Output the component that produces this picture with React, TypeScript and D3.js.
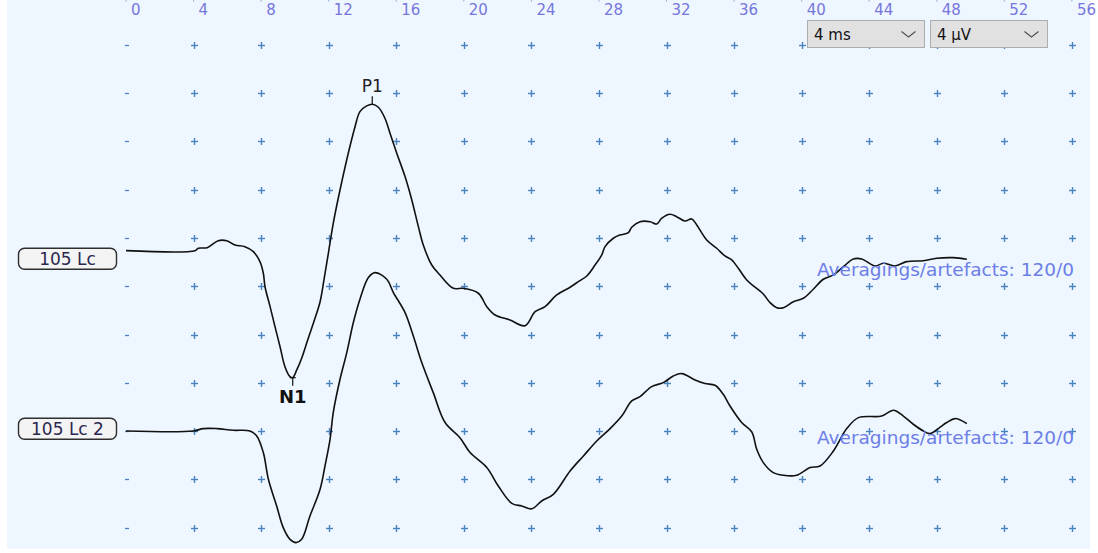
import React from 'react';
import * as d3 from 'd3';

// ---- data ----
const tickLabels = [0, 4, 8, 12, 16, 20, 24, 28, 32, 36, 40, 44, 48, 52, 56];
const gridRowsUv = [0, -4, -8, -12, -16, -20, -24, -28, -32, -36, -40];

const traceNames = ['105 Lc', '105 Lc 2'];
const averagingTexts = ['Averagings/artefacts: 120/0', 'Averagings/artefacts: 120/0'];
const dropdownTexts = ['4 ms', '4 µV'];

const trace1Ms = [0, 4.09, 4.28, 4.81, 5.46, 5.96, 6.45, 7.04, 7.54, 7.93, 8.13, 8.23, 8.53, 8.82, 9.12, 9.41, 9.71, 9.87, 10.11, 10.4, 10.79, 11.19, 11.49, 11.72, 11.98, 12.27, 12.67, 13.16, 13.56, 13.85, 14.25, 14.58, 14.94, 15.33, 15.63, 16.03, 16.52, 16.92, 17.31, 17.6, 18.1, 18.59, 19.38, 19.97, 20.86, 21.36, 21.85, 22.74, 23.62, 24.22, 24.81, 25.5, 26.29, 26.78, 27.28, 27.77, 28.16, 28.36, 28.85, 29.25, 29.74, 29.94, 30.43, 31.03, 31.42, 31.72, 32.21, 32.6, 33.1, 33.49, 33.79, 34.38, 34.97, 35.46, 35.86, 36.25, 36.75, 37.24, 37.73, 38.13, 38.53, 38.92, 39.51, 40.1, 40.69, 41.28, 41.88, 42.47, 43.06, 43.56, 44.35, 44.84, 45.53, 46.22, 47.21, 48.0, 48.98, 49.78];
const trace1Uv = [0, 0, 0.2, 0.25, 0.83, 0.83, 0.47, 0.33, -0.08, -0.91, -1.87, -2.99, -4.64, -6.3, -7.96, -9.62, -10.45, -10.53, -9.89, -8.92, -7.26, -5.61, -4.23, -2.43, -0.22, 2.27, 5.03, 8.08, 10.28, 11.53, 12.0, 12.14, 11.89, 10.98, 9.73, 8.08, 6.14, 4.2, 1.99, 0.47, -1.19, -2.02, -3.12, -3.12, -3.53, -4.64, -5.33, -5.75, -6.22, -5.06, -4.64, -3.67, -3.03, -2.57, -2.1, -1.19, -0.36, 0.33, 1.03, 1.3, 1.49, 1.94, 2.4, 2.4, 2.21, 2.69, 3.02, 2.82, 2.46, 2.63, 2.13, 0.89, 0.2, -0.44, -0.77, -1.46, -2.43, -3.03, -3.59, -4.31, -4.73, -4.73, -4.23, -3.95, -3.2, -2.37, -2.01, -1.33, -0.69, -0.69, -1.27, -1.04, -1.27, -0.91, -0.83, -0.63, -0.58, -0.71];

const trace2Ms = [0, 3.98, 4.58, 5.37, 6.35, 7.34, 7.74, 8.13, 8.43, 8.92, 9.31, 9.71, 10.07, 10.4, 10.89, 11.49, 11.78, 12.08, 12.27, 12.67, 13.07, 13.46, 13.85, 14.35, 14.74, 15.44, 15.83, 16.52, 17.01, 17.51, 18.19, 18.89, 19.77, 20.37, 21.36, 22.04, 22.84, 23.43, 24.02, 24.61, 25.3, 26.29, 27.08, 27.87, 28.66, 29.35, 29.94, 30.43, 31.12, 31.81, 32.4, 32.9, 33.69, 34.28, 34.87, 35.36, 35.76, 36.45, 37.05, 37.34, 37.73, 38.32, 38.92, 39.71, 40.5, 41.09, 41.88, 42.67, 43.36, 44.74, 45.43, 46.02, 46.61, 47.21, 47.6, 48.09, 48.59, 49.08, 49.78];
const trace2Uv = [0, 0, 0.2, 0.2, 0.06, 0, -0.41, -1.79, -4.0, -6.22, -8.01, -8.98, -9.25, -8.98, -7.05, -4.83, -2.9, -0.69, 1.53, 4.29, 6.5, 8.99, 10.92, 12.72, 13.13, 12.58, 11.48, 9.82, 7.88, 5.67, 3.18, 0.7, -0.55, -1.79, -3.03, -4.56, -6.0, -6.22, -6.45, -5.8, -5.25, -3.32, -2.07, -0.83, 0.2, 1.24, 2.49, 2.85, 3.68, 4.01, 4.56, 4.76, 4.23, 3.93, 3.79, 3.04, 2.07, 0.7, -0.08, -1.52, -2.62, -3.45, -3.67, -3.67, -3.03, -2.9, -1.66, 0.2, 1.11, 1.24, 1.72, 1.24, 0.56, 0, -0.22, 0.2, 0.7, 1.03, 0.61];

const peakLabels = ['P1', 'N1'];
const peakMs = [14.58, 9.87];
const peakUv = [12.14, -10.53];

// ---- layout ----
const W = 1098;
const H = 553;
const GRID = '#4a84c0';
const TICK_TEXT = '#7676dc';
const AVG_TEXT = '#6c7ee6';
const FONT = '"DejaVu Sans", Verdana, sans-serif';

export default function App() {
  const x = d3.scaleLinear().domain([0, 56]).range([126, 1071.9]);
  const y = d3.scaleLinear().domain([0, -40]).range([45, 527.5]);
  const baselines = [-17.05, -32];
  const labelBoxCenter = [258.8, 428.8];
  const avgBaseline = [276, 444];

  const traces = [
    trace1Ms.map((t, i) => [t, trace1Uv[i]] as [number, number]),
    trace2Ms.map((t, i) => [t, trace2Uv[i]] as [number, number]),
  ];

  const lineFor = (b: number) =>
    d3
      .line<[number, number]>()
      .x((d) => x(d[0]))
      .y((d) => y(b + d[1]))
      .curve(d3.curveCatmullRom.alpha(0.5));

  return (
    <svg
      width={W}
      height={H}
      style={{ position: 'absolute', left: 0, top: 0, display: 'block' }}
      fontFamily={FONT}
    >
      <rect x={0} y={0} width={W} height={H} fill="#ffffff" />
      <rect x={7} y={0} width={1083} height={549} fill="#eef6ff" />

      {/* top tick marks and labels */}
      {tickLabels.map((t) => (
        <g key={'t' + t}>
          <line x1={x(t)} x2={x(t)} y1={0} y2={1.5} stroke={GRID} strokeWidth={1} opacity={0.6} />
          <text x={x(t) + 5} y={14.7} fontSize={15} fill={TICK_TEXT}>
            {t}
          </text>
        </g>
      ))}

      {/* grid markers */}
      {gridRowsUv.map((r) =>
        tickLabels.map((t, ci) => {
          const cx = Math.round(x(t)) + 0.5;
          const cy = Math.round(y(r)) + 0.5;
          return ci === 0 ? (
            <line key={r + '_' + t} x1={cx - 1.5} x2={cx + 2.5} y1={cy} y2={cy} stroke={GRID} strokeWidth={1.3} />
          ) : (
            <g key={r + '_' + t} stroke={GRID} strokeWidth={1.4}>
              <line x1={cx - 3.5} x2={cx + 3.5} y1={cy} y2={cy} />
              <line x1={cx} x2={cx} y1={cy - 3.5} y2={cy + 3.5} />
            </g>
          );
        })
      )}

      {/* traces */}
      {traces.map((pts, i) => (
        <path key={'tr' + i} d={lineFor(baselines[i])(pts) || ''} fill="none" stroke="#111" strokeWidth={1.6} />
      ))}

      {/* channel label boxes */}
      {traceNames.map((n, i) => (
        <g key={'lb' + i}>
          <rect
            x={18.5}
            y={labelBoxCenter[i] - 10.5}
            width={98}
            height={21}
            rx={6}
            fill="#f4f4f4"
            stroke="#2e2e2e"
            strokeWidth={1.4}
          />
          <text x={67.5} y={labelBoxCenter[i] + 6.3} fontSize={17} textAnchor="middle" fill="#2c2850">
            {n}
          </text>
        </g>
      ))}

      {/* peak markers */}
      {peakLabels.map((p, i) => {
        const px = x(peakMs[i]);
        const py = y(baselines[0] + peakUv[i]);
        const up = peakUv[i] > 0;
        return up ? (
          <g key={p}>
            <line x1={px} x2={px} y1={py - 8} y2={py} stroke="#111" strokeWidth={1.2} />
            <text x={px} y={py - 12} fontSize={17} textAnchor="middle" fill="#222">
              {p}
            </text>
          </g>
        ) : (
          <g key={p}>
            <line x1={px - 3} x2={px + 3} y1={py} y2={py} stroke="#111" strokeWidth={1.2} />
            <line x1={px} x2={px} y1={py} y2={py + 8} stroke="#111" strokeWidth={1.2} />
            <text x={px} y={py + 25.6} fontSize={18} fontWeight="bold" textAnchor="middle" fill="#111">
              {p}
            </text>
          </g>
        );
      })}

      {/* averaging texts */}
      {averagingTexts.map((s, i) => (
        <text key={'av' + i} x={817} y={avgBaseline[i]} fontSize={17} fill={AVG_TEXT} textLength={257} lengthAdjust="spacingAndGlyphs">
          {s}
        </text>
      ))}

      {/* dropdowns */}
      {dropdownTexts.map((s, i) => {
        const bx = 807.5 + i * 123;
        return (
          <g key={'dd' + i}>
            <rect x={bx} y={20.5} width={117} height={27} fill="#e1e1e1" stroke="#adadad" strokeWidth={1} />
            <text x={bx + 6.5} y={40} fontSize={15} fill="#111">
              {s}
            </text>
            <polyline
              points={`${bx + 94},31.5 ${bx + 101},37 ${bx + 108},31.5`}
              fill="none"
              stroke="#505050"
              strokeWidth={1.1}
            />
          </g>
        );
      })}
    </svg>
  );
}
